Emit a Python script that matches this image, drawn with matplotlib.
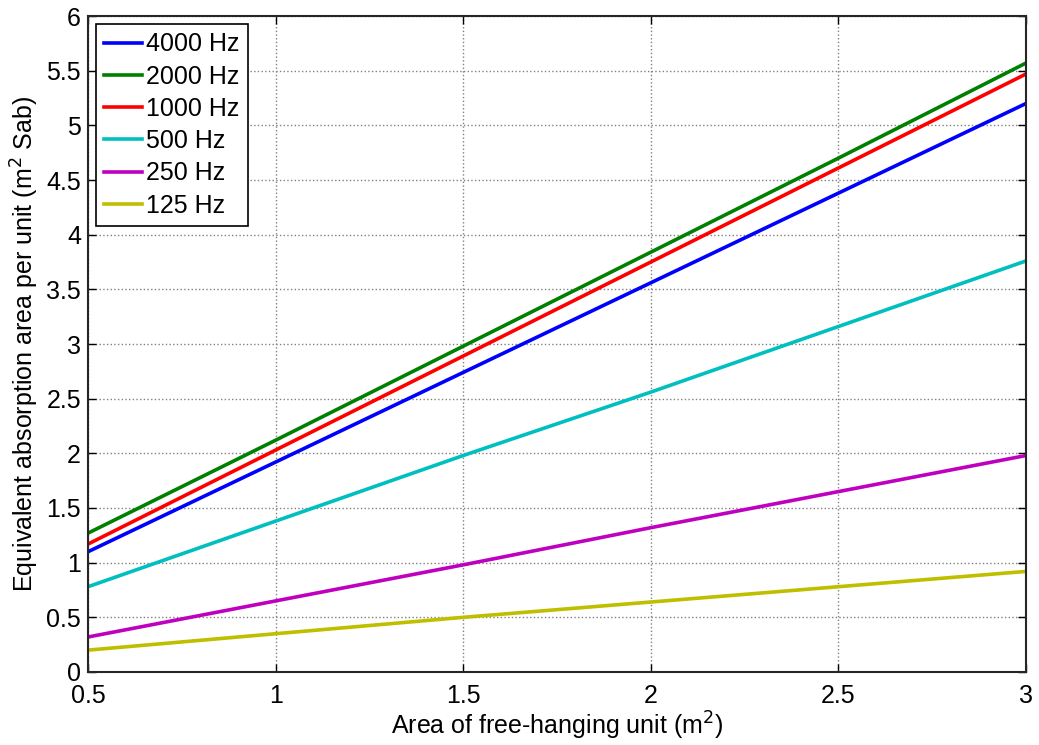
import matplotlib
matplotlib.use("Agg")
import matplotlib.pyplot as plt

# area of free-hanging unit (m2)
area = [0.5, 1.0, 1.5, 2.0, 2.5, 3.0]

# equivalent absorption area per unit (m2 Sabine)
a_4000 = [1.10, 1.92, 2.74, 3.56, 4.38, 5.20]
a_2000 = [1.27, 2.12, 2.98, 3.84, 4.70, 5.57]
a_1000 = [1.17, 2.03, 2.89, 3.75, 4.61, 5.47]
a_500 = [0.78, 1.38, 1.98, 2.56, 3.16, 3.76]
a_250 = [0.32, 0.65, 0.98, 1.32, 1.65, 1.98]
a_125 = [0.20, 0.35, 0.50, 0.64, 0.78, 0.92]

labels = ["4000 Hz", "2000 Hz", "1000 Hz", "500 Hz", "250 Hz", "125 Hz"]
series = [a_4000, a_2000, a_1000, a_500, a_250, a_125]
colors = ["#0000ff", "#008000", "#ff0000", "#00bfbf", "#bf00bf", "#bfbf00"]

plt.rcParams["font.family"] = ["Liberation Sans", "DejaVu Sans"]

fig = plt.figure(figsize=(10.39, 7.45), dpi=100)
ax = fig.add_axes([0.0847, 0.098, 0.9028, 0.8805])

for y, lab, c in zip(series, labels, colors):
    ax.plot(area, y, color=c, lw=2.6, label=lab)

ax.set_xlim(0.5, 3)
ax.set_ylim(0, 6)
ax.set_xticks([0.5, 1, 1.5, 2, 2.5, 3])
ax.set_xticklabels(["0.5", "1", "1.5", "2", "2.5", "3"])
ax.set_yticks([0, 0.5, 1, 1.5, 2, 2.5, 3, 3.5, 4, 4.5, 5, 5.5, 6])
ax.set_yticklabels(["0", "0.5", "1", "1.5", "2", "2.5", "3", "3.5", "4", "4.5", "5", "5.5", "6"])
ax.tick_params(axis="both", labelsize=18, direction="in", length=6, width=1, top=True, right=True)
ax.tick_params(axis="x", pad=9)
ax.tick_params(axis="y", pad=5)
ax.grid(True, color="#808080", linestyle=":", linewidth=1.0)
for s in ax.spines.values():
    s.set_linewidth(1.5)
    s.set_color("#262626")

ax.set_xlabel("Area of free-hanging unit (m$^2$)", fontsize=18, labelpad=1)
ax.set_ylabel("Equivalent absorption area per unit (m$^2$ Sab)", fontsize=18, labelpad=4)

leg = ax.legend(loc="upper left", fontsize=18, frameon=True, fancybox=False,
                edgecolor="black", framealpha=1, handlelength=1.5, handletextpad=0.15,
                labelspacing=0.33, borderaxespad=0.3, borderpad=0.35)
leg.get_frame().set_linewidth(1.2)

fig.savefig("out.png", dpi=100)
